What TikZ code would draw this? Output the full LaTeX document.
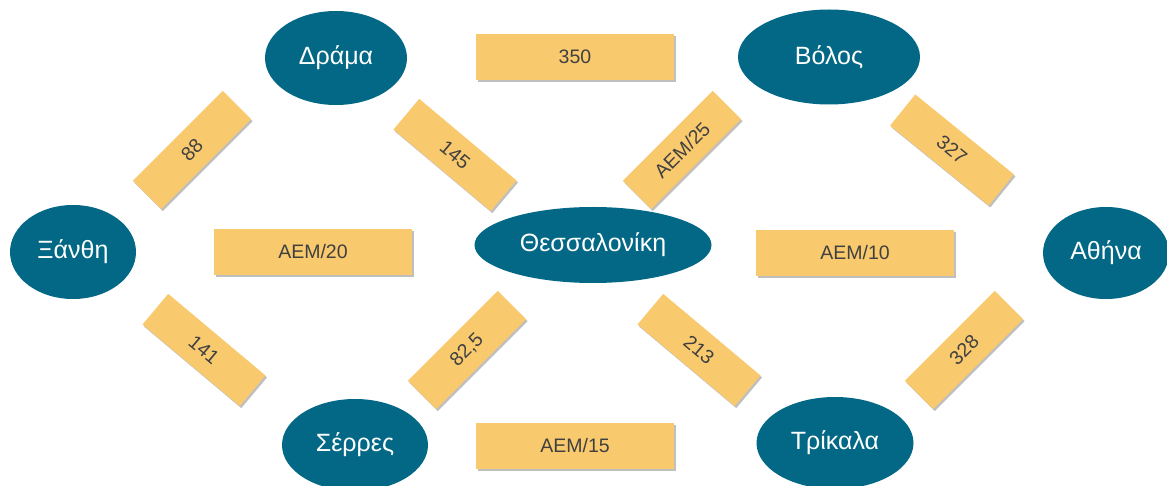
\documentclass[tikz,border=0pt]{standalone}
\usepackage{fontspec}
\setmainfont{Liberation Sans}
\usetikzlibrary{shapes.geometric,shadows}
\definecolor{teal}{RGB}{2,104,133}
\definecolor{ylw}{RGB}{249,201,110}
\definecolor{txt}{RGB}{64,64,64}
\tikzset{
  city/.style={ellipse, fill=teal, text=white, inner sep=0pt, font=\fontsize{25}{29}\selectfont},
  dist/.style={rectangle, fill=ylw, text=txt, inner sep=0pt, font=\fontsize{19.5}{22}\selectfont,
    drop shadow={shadow xshift=1.5pt, shadow yshift=-2pt, opacity=0.25, fill=black}},
  hbox/.style={dist, minimum width=198pt, minimum height=46pt},
  dbox/.style={dist, minimum width=127pt, minimum height=40pt},
}
\begin{document}
\begin{tikzpicture}[x=1pt,y=-1pt]
\useasboundingbox (0,0) rectangle (1167,486);
% cities
\node[city, minimum width=142pt, minimum height=94pt] (drama) at (336,58) {Δράμα};
\node[city, minimum width=182pt, minimum height=95pt] (volos) at (829,57) {Βόλος};
\node[city, minimum width=126pt, minimum height=94pt] (xanthi) at (73,252) {Ξάνθη};
\node[city, minimum width=237pt, minimum height=76pt] (thess) at (593,245) {Θεσσαλονίκη};
\node[city, minimum width=126pt, minimum height=92pt] (athina) at (1106,253) {Αθήνα};
\node[city, minimum width=146pt, minimum height=92pt] (serres) at (355,445) {Σέρρες};
\node[city, minimum width=157pt, minimum height=92pt] (trikala) at (835,443) {Τρίκαλα};
% horizontal labels
\node[hbox] (d350) at (575,57) {350};
\node[hbox] (aem20) at (313,252) {AEM/20};
\node[hbox] (aem10) at (855,253) {AEM/10};
\node[hbox] (aem15) at (575,446) {AEM/15};
% diagonal labels
\node[dbox, rotate=45] (d88) at (192,150) {88};
\node[dbox, rotate=-40] (d145) at (455,155) {145};
\node[dbox, rotate=45] (aem25) at (682,150) {AEM/25};
\node[dbox, rotate=-39] (d327) at (952,150) {327};
\node[dbox, rotate=-40] (d141) at (204,350) {141};
\node[dbox, rotate=45] (d825) at (467,350) {82,5};
\node[dbox, rotate=-40] (d213) at (699,350) {213};
\node[dbox, rotate=45] (d328) at (964,350) {328};
\end{tikzpicture}
\end{document}
